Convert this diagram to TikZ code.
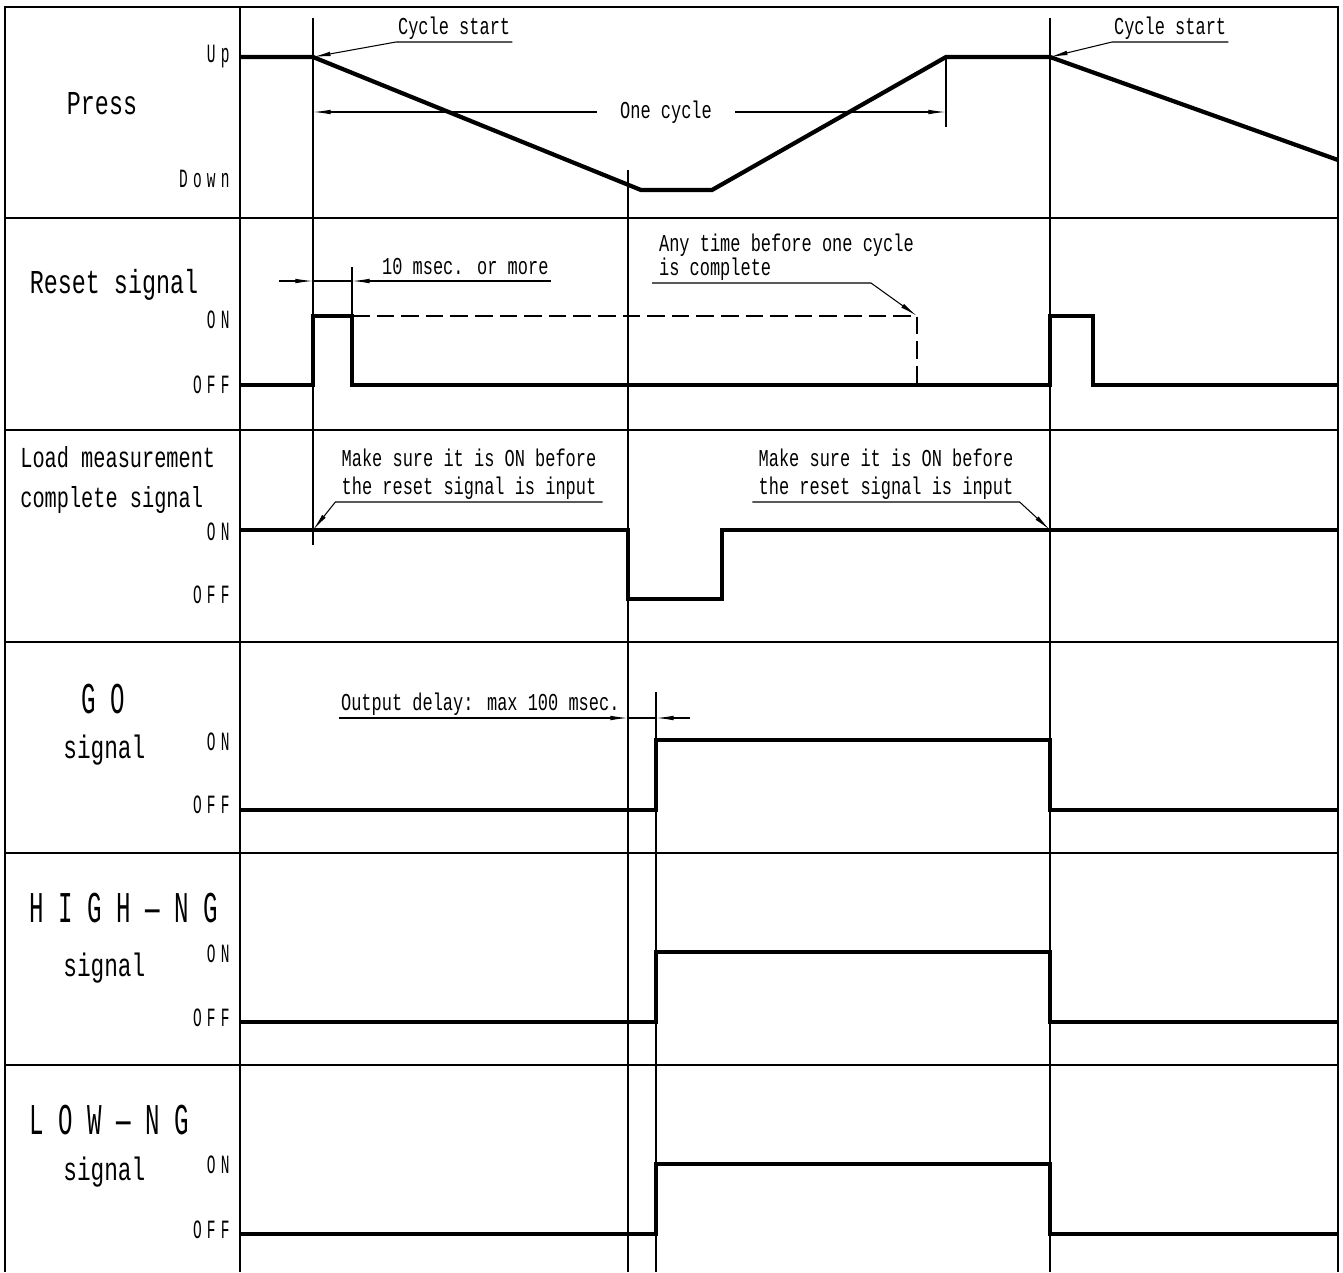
\documentclass[tikz,border=0pt]{standalone}
\usepackage{fontspec}
\setmainfont{Liberation Mono}[FakeStretch=0.7]
\newfontfamily\tagfont{Liberation Mono}[FakeStretch=0.55, LetterSpace=20]
\newfontfamily\bigtagfont{Liberation Mono}[FakeStretch=0.55, LetterSpace=33]
\usepackage{tikz}
\usetikzlibrary{positioning, arrows.meta, calc}

\begin{document}
\begin{tikzpicture}[x=0.02cm, y=-0.02cm,
    cadre/.style={line width=1.1pt},
    repere/.style={line width=0.7pt},
    signal/.style={line width=2.4pt, line join=miter},
    cote/.style={line width=0.6pt},
    fleche/.style={cote, -{Latex[length=10pt, width=2.6pt]}},
    tirets/.style={cote, dash pattern=on 10pt off 4pt},
    note/.style={font=\fontsize{13.8}{13.6}\selectfont, inner sep=1pt},
    titre/.style={font=\fontsize{19}{22}\selectfont, inner sep=0pt},
    sig/.style={font=\fontsize{18.5}{20}\selectfont, inner sep=0pt, anchor=base west},
    niveau/.style={font=\tagfont\fontsize{15}{17}\selectfont, inner sep=0pt, anchor=base east},
    grand/.style={font=\bigtagfont\fontsize{25}{28}\selectfont, inner sep=0pt, anchor=base west}]
    \useasboundingbox (0,0) rectangle (1343,1272);

    % Cadre
    \draw[cadre] (5,1272) -- (5,7) -- (1338,7) -- (1338,1272);
    \draw[cadre] (240,7) -- (240,1272);
    \foreach \y in {218,430,642,853,1065}
        \draw[cadre] (5,\y) -- (1338,\y);

    % Reperes de temps
    \coordinate (t1) at (313,18);
    \coordinate (t2) at (352,267);
    \coordinate (t3) at (628,170);
    \coordinate (t4) at (656,692);
    \coordinate (t5) at (946,55);
    \coordinate (t6) at (1050,18);
    \draw[repere] (t1) -- (313,545);
    \draw[repere] (t2) -- (352,316);
    \draw[repere] (t3) -- (628,1272);
    \draw[repere] (t4) -- (656,1272);
    \draw[repere] (t5) -- (946,127);
    \draw[repere] (t6) -- (1050,1272);

    % Libelles
    \node[titre, anchor=base] (press) at (102,114) {Press};
    \node[niveau] (up) at (230,62) {Up};
    \node[niveau] (down) at (230,187) {Down};
    \node[titre, anchor=base] (reset) at (114,293) {Reset signal};
    \node[niveau] (on-reset) at (230,328) {ON};
    \node[niveau] (off-reset) at (230,393) {OFF};
    \node[titre, anchor=north west, align=left, font=\fontsize{16.5}{22.7}\selectfont] (load) at (20,446) {Load measurement\\complete signal};
    \node[niveau] (on-load) at (230,540) {ON};
    \node[niveau] (off-load) at (230,603) {OFF};
    \node[grand] (go) at (81,713) {GO};
    \node[grand] (high) at (29,922) {HIGH—NG};
    \node[grand] (low) at (29,1134) {LOW—NG};
    \foreach \nom/\s/\on/\off in {go/758/750/813, high/976/962/1026, low/1180/1173/1238} {
        \node[sig] (sig-\nom) at (63,\s) {signal};
        \node[niveau] (on-\nom) at (230,\on) {ON};
        \node[niveau] (off-\nom) at (230,\off) {OFF};
    }

    % Signaux
    \draw[signal] (240,57) -- (313,57) -- (641,190) -- (712,190) -- (946,57) -- (1050,57) -- (1338,160);
    \draw[signal] (240,385) -| (313,316) -| (352,385) -| (1050,316) -| (1093,385) -- (1338,385);
    \draw[signal] (240,530) -| (628,599) -| (722,530) -- (1338,530);
    \foreach \on/\off in {740/810, 952/1022, 1164/1234}
        \draw[signal] (240,\off) -| (656,\on) -| (1050,\off) -- (1338,\off);

    % Debut de cycle
    \coordinate (debut1) at (313,57);
    \coordinate (debut2) at (1050,57);
    \node[note, anchor=south west] (cs1) at (396,42) {Cycle start};
    \draw[fleche] (cs1.south east) -- (cs1.south west) -- (debut1);
    \node[note, anchor=south west] (cs2) at (1112,42) {Cycle start};
    \draw[fleche] (cs2.south east) -- (cs2.south west) -- (debut2);
    \node[note, inner xsep=13pt] (cycle) at (666,112) {One cycle};
    \draw[fleche] (cycle.west) -- (cycle.west -| t1);
    \draw[fleche] (cycle.east) -- (cycle.east -| t5);

    % Signal de reset
    \coordinate (r0) at (279,281);
    \node[note, anchor=south west, inner ysep=3.5pt] (tenms) at (380,281) {10 msec. or more};
    \draw[fleche] (r0) -- (r0 -| t1);
    \draw[cote] (r0 -| t1) -- (r0 -| t2);
    \draw[fleche] (tenms.south east) -- (tenms.south east -| t2);
    \node[note, align=left, anchor=north west] (anytime) at (657,232) {Any time before one cycle\\is complete};
    \coordinate (a0) at (652,283);
    \coordinate (a1) at (871,283);
    \coordinate (fin) at (917,316);
    \draw[fleche] (a0) -- (a1) -- (fin);
    \draw[tirets] (352,316) -- (fin) -- (917,385);

    % Fin de mesure
    \coordinate (on1) at (313,530);
    \coordinate (on2) at (1050,530);
    \node[note, align=center, inner xsep=3.4pt, anchor=south, font=\fontsize{13.8}{16.4}\selectfont] (sure1) at (469,502) {Make sure it is ON before\\the reset signal is input};
    \draw[fleche] (sure1.south east) -- (sure1.south west) -- (on1);
    \node[note, align=center, inner xsep=3.4pt, anchor=south, font=\fontsize{13.8}{16.4}\selectfont] (sure2) at (886,502) {Make sure it is ON before\\the reset signal is input};
    \draw[fleche] (sure2.south west) -- (sure2.south east) -- (on2);

    % Retard de sortie
    \node[note, anchor=south west] (delay) at (339,718) {Output delay: max 100 msec.};
    \coordinate (d1) at (690,718);
    \draw[fleche] (delay.south west) -- (delay.south west -| t3);
    \draw[cote] (delay.south west -| t3) -- (d1 -| t4);
    \draw[fleche] (d1) -- (d1 -| t4);
\end{tikzpicture}
\end{document}
